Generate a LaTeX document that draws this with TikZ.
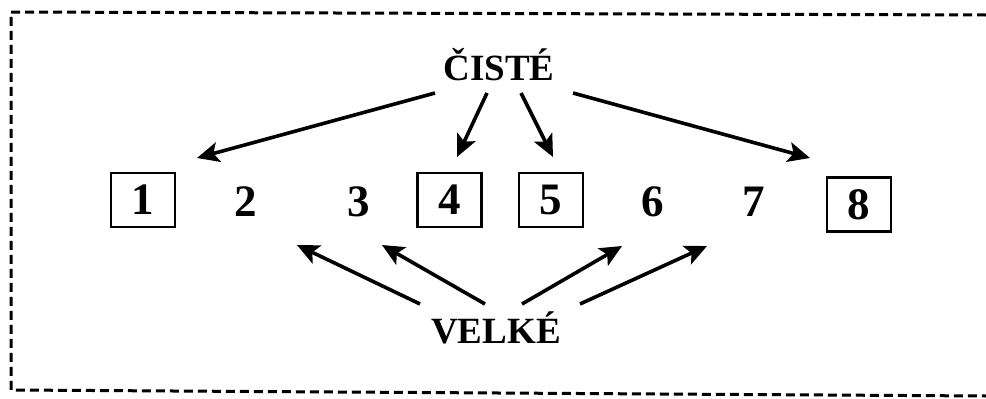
\documentclass[tikz,border=0pt]{standalone}
\usepackage{fontspec}
\setmainfont{Liberation Serif}
\usetikzlibrary{arrows.meta}
\tikzset{
  word/.style={font=\fontsize{37}{40}\selectfont\bfseries, inner sep=0pt},
  num/.style={font=\fontsize{45}{48}\selectfont\bfseries, inner sep=0pt, minimum width=64pt, minimum height=54pt},
  boxed/.style={num, draw, line width=2.2pt},
  arr/.style={line width=3.6pt, -{Stealth[length=22pt,width=20pt,inset=5pt]}},
  frame/.style={line width=3pt, dash pattern=on 9pt off 5pt}
}
\begin{document}
\begin{tikzpicture}[x=1pt,y=-1pt]
\useasboundingbox (0,0) rectangle (986,399);
% frame (right side cut off)
\coordinate (c1) at (986,15);
\coordinate (c2) at (11,12);
\coordinate (c3) at (11,390);
\coordinate (c4) at (986,396);
\draw[frame] (c1) -- (c2) -- (c3) -- (c4);
% words
\node[word, anchor=base] (ciste) at (499,80) {ČISTÉ};
\node[word, anchor=base] (velke) at (496,343) {VELKÉ};
% numbers
\node[boxed] (n1) at (143,200) {1};
\node[num] (n2) at (246,202) {2};
\node[num] (n3) at (359,202) {3};
\node[boxed] (n4) at (449.5,200) {4};
\node[boxed] (n5) at (551,200) {5};
\node[num] (n6) at (653,202) {6};
\node[num] (n7) at (754,202) {7};
\node[boxed] (n8) at (859,204.5) {8};
% arrow ends
\coordinate (ta) at (435,93);  \coordinate (ha) at (197,158);
\coordinate (tb) at (487,93);  \coordinate (hb) at (457,157);
\coordinate (tc) at (521,93);  \coordinate (hc) at (553,157);
\coordinate (td) at (573,93);  \coordinate (hd) at (810,158);
\coordinate (te) at (420,304); \coordinate (he) at (297,245);
\coordinate (tf) at (485,304); \coordinate (hf) at (382,245);
\coordinate (tg) at (522,304); \coordinate (hg) at (622,246);
\coordinate (th) at (580,304); \coordinate (hh) at (707,246);
\draw[arr] (ta) -- (ha);
\draw[arr] (tb) -- (hb);
\draw[arr] (tc) -- (hc);
\draw[arr] (td) -- (hd);
\draw[arr] (te) -- (he);
\draw[arr] (tf) -- (hf);
\draw[arr] (tg) -- (hg);
\draw[arr] (th) -- (hh);
\end{tikzpicture}
\end{document}
